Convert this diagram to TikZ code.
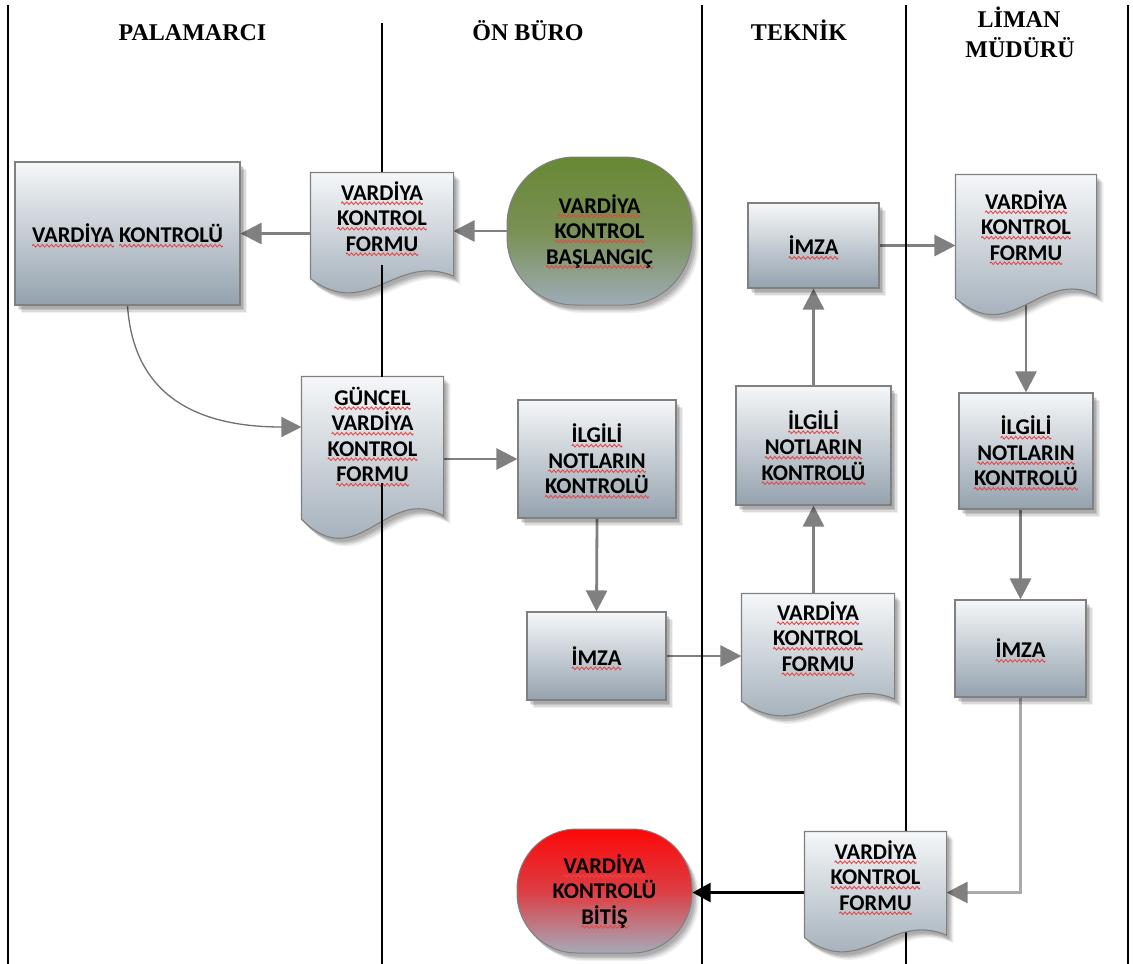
\documentclass[tikz,border=0pt]{standalone}
\usepackage{fontspec}
\setmainfont{Liberation Serif}
\newfontfamily\boxfont{Carlito}
\usetikzlibrary{arrows.meta,shadows}

\definecolor{spellred}{RGB}{232,70,70}
\definecolor{boxtop}{RGB}{245,247,249}
\definecolor{boxbot}{RGB}{148,162,174}
\definecolor{boxline}{RGB}{128,128,128}
\definecolor{flowgray}{RGB}{128,128,128}
\definecolor{curvegray}{RGB}{112,112,112}
\definecolor{elbowgray}{RGB}{170,170,170}
\definecolor{starttop}{RGB}{104,136,52}
\definecolor{startmid}{RGB}{122,144,84}
\definecolor{startbot}{RGB}{158,172,182}
\definecolor{endtop}{RGB}{252,8,8}
\definecolor{endmid}{RGB}{220,62,68}
\definecolor{endbot}{RGB}{166,170,184}

% red wavy underline under each word
\newsavebox\wavebox
\newsavebox\sqword
\newcommand\sq[1]{\sbox\sqword{#1}%
  \rlap{\smash{\lower4.5pt\hbox to \wd\sqword{\xleaders\copy\wavebox\hfill}}}%
  \usebox\sqword}

\newcommand\boxtext{\boxfont\bfseries\fontsize{22.5}{25.5}\selectfont}
\newcommand\headtext{\bfseries\fontsize{24}{28}\selectfont}

% flowchart "document" shape: flat top, wavy bottom
\makeatletter
\newdimen\dwL \newdimen\dwR \newdimen\dwT \newdimen\dwB
\newdimen\dwW \newdimen\dwH \newdimen\dwYr \newdimen\dwYl
\newdimen\dwXa \newdimen\dwYa \newdimen\dwXb \newdimen\dwYb
\pgfdeclareshape{docwave}{%
  \inheritsavedanchors[from=rectangle]%
  \inheritanchorborder[from=rectangle]%
  \inheritanchor[from=rectangle]{center}%
  \inheritanchor[from=rectangle]{north}%
  \inheritanchor[from=rectangle]{south}%
  \inheritanchor[from=rectangle]{east}%
  \inheritanchor[from=rectangle]{west}%
  \inheritanchor[from=rectangle]{north east}%
  \inheritanchor[from=rectangle]{north west}%
  \inheritanchor[from=rectangle]{south east}%
  \inheritanchor[from=rectangle]{south west}%
  \backgroundpath{%
    \southwest \dwL=\pgf@x \dwB=\pgf@y
    \northeast \dwR=\pgf@x \dwT=\pgf@y
    \dwW=\dwR \advance\dwW by -\dwL
    \dwH=\dwT \advance\dwH by -\dwB
    \dwYr=\dwB \advance\dwYr by 0.15\dwH
    \dwYl=\dwB \advance\dwYl by 0.13\dwH
    \dwXa=\dwL \advance\dwXa by 0.6\dwW
    \dwYa=\dwB \advance\dwYa by 0.35\dwH
    \dwXb=\dwL \advance\dwXb by 0.4\dwW
    \dwYb=\dwB \advance\dwYb by -0.22\dwH
    \pgfpathmoveto{\pgfqpoint{\dwL}{\dwT}}%
    \pgfpathlineto{\pgfqpoint{\dwR}{\dwT}}%
    \pgfpathlineto{\pgfqpoint{\dwR}{\dwYr}}%
    \pgfpathcurveto{\pgfqpoint{\dwXa}{\dwYa}}{\pgfqpoint{\dwXb}{\dwYb}}{\pgfqpoint{\dwL}{\dwYl}}%
    \pgfpathclose
  }%
}
\makeatother

\pgfdeclarelayer{bg}
\pgfdeclarelayer{fg}
\pgfsetlayers{bg,main,fg}

\tikzset{
  lane/.style={line width=1.8pt, draw=black},
  head/.style={font=\headtext, inner sep=0pt, anchor=base},
  softshadow/.style={
    general shadow={fill=black, opacity=0.11, shadow xshift=2.5pt, shadow yshift=-3.5pt},
    general shadow={fill=black, opacity=0.11, shadow xshift=4pt, shadow yshift=-5pt},
    general shadow={fill=black, opacity=0.09, shadow xshift=5.5pt, shadow yshift=-6.5pt},
    general shadow={fill=black, opacity=0.06, shadow xshift=7pt, shadow yshift=-8pt}},
  shadebox/.style={top color=boxtop, bottom color=boxbot, draw=boxline,
      line width=1.1pt, softshadow},
  procbox/.style={rectangle, shadebox, inner sep=0pt, align=center, font=\boxtext},
  docbox/.style={docwave, shadebox, inner sep=0pt},
  doctext/.style={inner sep=0pt, align=center, font=\boxtext},
  termbox/.style={rectangle, draw=black!50, line width=1pt,
      inner sep=0pt, align=center, font=\boxtext, softshadow},
  startbox/.style={termbox, rounded corners=68pt,
      top color=starttop, bottom color=startbot, middle color=startmid},
  stopbox/.style={termbox, rounded corners=60pt,
      top color=endtop, bottom color=endbot, middle color=endmid},
  flow/.style={draw=flowgray, line width=2.8pt, -{Triangle[length=21pt,width=21pt]}},
  curveflow/.style={draw=curvegray, line width=1.3pt,
      -{Triangle[length=20pt,width=20pt,color=flowgray]}},
  elbowflow/.style={draw=elbowgray, line width=2.8pt,
      -{Triangle[length=21pt,width=21pt,color=flowgray]}},
  blackflow/.style={draw=black, line width=2.2pt, -{Triangle[length=18pt,width=19pt]}},
}

\begin{document}
% one period of the wavy underline, repeated by \sq
\sbox\wavebox{\begin{pgfpicture}%
  \pgfpathrectangle{\pgfpoint{0pt}{-1.6pt}}{\pgfpoint{4.4pt}{3.2pt}}%
  \pgfusepath{use as bounding box}%
  \pgfsetstrokecolor{spellred}%
  \pgfsetlinewidth{0.9pt}%
  \pgfpathmoveto{\pgfpoint{0pt}{0pt}}%
  \pgfpathsine{\pgfpoint{1.1pt}{1.3pt}}%
  \pgfpathcosine{\pgfpoint{1.1pt}{-1.3pt}}%
  \pgfpathsine{\pgfpoint{1.1pt}{-1.3pt}}%
  \pgfpathcosine{\pgfpoint{1.1pt}{1.3pt}}%
  \pgfusepath{stroke}%
\end{pgfpicture}}%
\begin{tikzpicture}[x=1pt,y=-1pt]
\begin{pgfonlayer}{bg}
  \fill[white] (0,0) rectangle (1133,964);
\end{pgfonlayer}
\useasboundingbox (0,0) rectangle (1133,964);

% lane headings
\node[head] (hPal) at (192.5,40) {PALAMARCI};
\node[head] (hOn) at (528,40) {ÖN BÜRO};
\node[head] (hTek) at (799,40) {TEKNİK};
\node[head] (hLim) at (1019,27) {LİMAN};
\node[head] (hMud) at (1020,57) {MÜDÜRÜ};

% PALAMARCI
\node[procbox, minimum width=225pt, minimum height=143pt] (vk) at (127.5,233.5)
  {\sq{VARDİYA} \sq{KONTROLÜ}};

% ÖN BÜRO
\node[docbox, minimum width=142pt, minimum height=121pt] (f1) at (382,233.5) {};
\node[doctext, yshift=17pt] (f1t) at (f1) {\sq{VARDİYA}\\\sq{KONTROL}\\\sq{FORMU}};
\node[startbox, minimum width=185pt, minimum height=148pt] (start) at (599.5,231)
  {\sq{VARDİYA}\\\sq{KONTROL}\\\sq{BAŞLANGIÇ}};
\node[docbox, minimum width=141pt, minimum height=163pt] (g) at (372.5,458.5) {};
\node[doctext, yshift=24pt] (gt) at (g) {\sq{GÜNCEL}\\\sq{VARDİYA}\\\sq{KONTROL}\\\sq{FORMU}};
\node[procbox, minimum width=158pt, minimum height=118pt] (il1) at (597,459)
  {\sq{İLGİLİ}\\\sq{NOTLARIN}\\\sq{KONTROLÜ}};
\node[procbox, minimum width=139pt, minimum height=88pt] (im1) at (596.5,656) {\sq{İMZA}};
\node[stopbox, minimum width=175pt, minimum height=124pt] (stop) at (604.5,891)
  {\sq{VARDİYA}\\\sq{KONTROLÜ}\\\sq{BİTİŞ}};

% TEKNİK
\node[docbox, minimum width=152pt, minimum height=123pt] (f3) at (818,655.5) {};
\node[doctext, yshift=19pt] (f3t) at (f3) {\sq{VARDİYA}\\\sq{KONTROL}\\\sq{FORMU}};
\node[procbox, minimum width=155pt, minimum height=119pt] (il2) at (813.5,445.5)
  {\sq{İLGİLİ}\\\sq{NOTLARIN}\\\sq{KONTROLÜ}};
\node[procbox, minimum width=131pt, minimum height=85pt] (im2) at (813.5,245.5) {\sq{İMZA}};
\node[docbox, minimum width=141pt, minimum height=121pt] (f5) at (875.5,892.5) {};
\node[doctext, yshift=17pt] (f5t) at (f5) {\sq{VARDİYA}\\\sq{KONTROL}\\\sq{FORMU}};

% LİMAN MÜDÜRÜ
\node[docbox, minimum width=140pt, minimum height=141pt] (f4) at (1026,245.5) {};
\node[doctext, yshift=20pt] (f4t) at (f4) {\sq{VARDİYA}\\\sq{KONTROL}\\\sq{FORMU}};
\node[procbox, minimum width=134pt, minimum height=116pt] (il3) at (1026,451)
  {\sq{İLGİLİ}\\\sq{NOTLARIN}\\\sq{KONTROLÜ}};
\node[procbox, minimum width=131pt, minimum height=97pt] (im3) at (1020.5,648.5) {\sq{İMZA}};

% connectors and lane lines behind the shapes
\begin{pgfonlayer}{bg}
  \draw[flow] (start.west) -- (start.west -| f1.east);
  \draw[flow] (f1.west) -- (f1.west -| vk.east);
  \draw[curveflow] (vk.south) .. controls +(6,90) and +(-105,0) .. ([yshift=31.5pt]g.west);
  \draw[flow] (g.east |- il1.west) -- (il1.west);
  \draw[flow] (il1.south) -- (im1.north);
  \draw[flow] (im1.east) -- (im1.east -| f3.west);
  \draw[flow] (il2.south |- f3.north) -- (il2.south);
  \draw[flow] (il2.north) -- (im2.south);
  \draw[flow] (im2.east) -- (im2.east -| f4.west);
  \draw[flow] (f4.center) -- (f4.center |- il3.north);
  \draw[flow] (im3.north |- il3.south) -- (im3.north);
  \draw[elbowflow] (im3.south) |- (f5.east);
  \draw[blackflow] (f5.west) -- (f5.west -| stop.east);

  \draw[lane] (8,5) -- (8,964);
  \draw[lane] (382,23) -- (382,964);
  \draw[lane] (702,5) -- (702,964);
  \draw[lane] (906,5) -- (906,964);
  \draw[lane] (1128,5) -- (1128,964);
\end{pgfonlayer}

% parts of the lane line that run across the lower halves of the forms
\begin{pgfonlayer}{fg}
  \draw[lane] (382,265) -- (382,377);
  \draw[lane] (382,483) -- (382,964);
\end{pgfonlayer}
\end{tikzpicture}
\end{document}
